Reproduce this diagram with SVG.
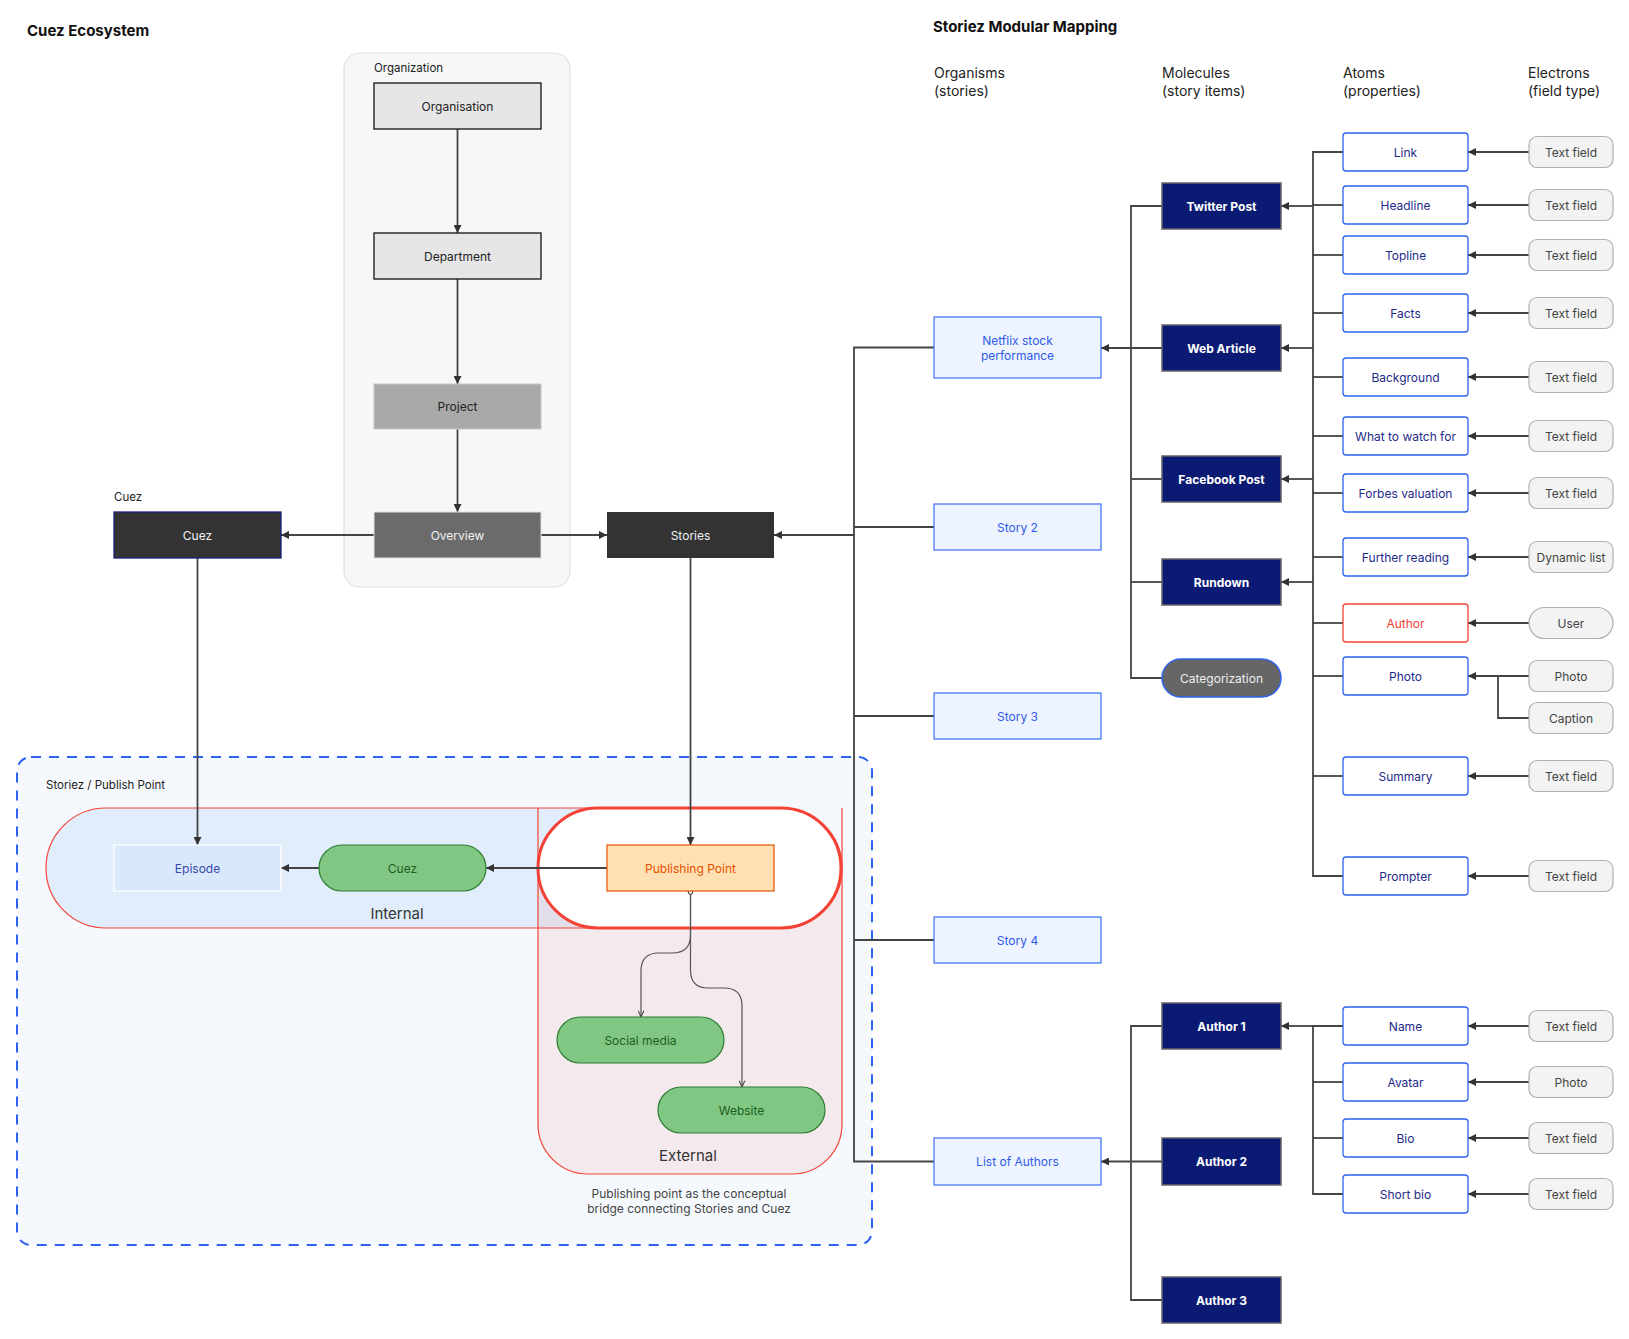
<svg xmlns="http://www.w3.org/2000/svg" width="1629" height="1339" viewBox="0 0 1629 1339">
<defs>
<marker id="arr" viewBox="0 0 10 10" refX="10" refY="5" markerWidth="8" markerHeight="8" markerUnits="userSpaceOnUse" orient="auto"><path d="M0,0 L10,5 L0,10 z" fill="#333"/></marker>
<marker id="open" viewBox="0 0 10 10" refX="10" refY="5" markerWidth="7" markerHeight="7" markerUnits="userSpaceOnUse" orient="auto"><path d="M1,1 L10,5 L1,9" fill="none" stroke="#444" stroke-width="1.5"/></marker>
</defs>
<style>
text{font-family:Inter,"Noto Sans","Liberation Sans",sans-serif;}
.t{font-size:12px;text-anchor:middle;dominant-baseline:central;}
.title{font-size:15px;font-weight:700;fill:#111;}
.hdr{font-size:14px;fill:#222;}
.lbl{font-size:11.5px;fill:#222;}
.org{fill:#eef4ff;stroke:#3d6cf5;stroke-width:1.2;}
.orgt{fill:#2f5be8;}
.mol{fill:#0b1b73;stroke:#666;stroke-width:1.5;}
.molt{fill:#fff;font-weight:700;}
.atom{fill:#fff;stroke:#2e63f0;stroke-width:1.3;}
.atomt{fill:#1e2a8a;}
.el{fill:#f3f3f3;stroke:#b0b0b0;stroke-width:1.2;}
.elt{fill:#444;}
.c{fill:none;stroke:#444;stroke-width:1.8;}
.ca{fill:none;stroke:#444;stroke-width:1.8;marker-end:url(#arr);}
.cc{fill:none;stroke:#555;stroke-width:1.2;marker-end:url(#open);}
</style>

<text class="title" x="27" y="36">Cuez Ecosystem</text>
<text class="title" x="933" y="32">Storiez Modular Mapping</text>

<g id="headers" class="hdr">
<text x="934" y="78">Organisms</text><text x="934" y="96">(stories)</text>
<text x="1162" y="78">Molecules</text><text x="1162" y="96">(story items)</text>
<text x="1343" y="78">Atoms</text><text x="1343" y="96">(properties)</text>
<text x="1528" y="78">Electrons</text><text x="1528" y="96">(field type)</text>
</g>

<!-- Organization container -->
<g id="organization-group">
<rect x="344" y="53" width="226" height="534" rx="16" fill="#f7f7f7" stroke="#e0e0e0" stroke-width="1.2"/>
<text class="lbl" x="374" y="72">Organization</text>
</g>

<!-- Storiez / Publish Point container -->
<g id="publish-container">
<rect x="17" y="757" width="855" height="488" rx="14" fill="#f5f9fd" stroke="#2f62f0" stroke-width="2" stroke-dasharray="10 8"/>
<text class="lbl" x="46" y="789">Storiez / Publish Point</text>
</g>
<g id="internal-zone">
<rect x="46" y="808" width="796" height="120" rx="60" fill="#e1edfb" stroke="#f44336" stroke-width="1.2"/>
<text x="397" y="919" font-size="15" fill="#333" text-anchor="middle">Internal</text>
</g>
<g id="external-zone">
<path d="M538,868 H842 V1124 A50,50 0 0 1 792,1174 H588 A50,50 0 0 1 538,1124 Z" fill="#f44336" fill-opacity="0.08"/>
<path d="M538,808 V1124 A50,50 0 0 0 588,1174 H792 A50,50 0 0 0 842,1124 V808" fill="none" stroke="#f44336" stroke-width="1.2"/>
<text x="688" y="1161" font-size="15" fill="#333" text-anchor="middle">External</text>
</g>
<g id="publishing-zone">
<rect x="538" y="808" width="303" height="120" rx="60" fill="#fff" stroke="#f44336" stroke-width="3"/>
</g>

<!-- Connectors -->
<g id="connectors">
<line class="ca" x1="457.5" y1="129" x2="457.5" y2="233"/>
<line class="ca" x1="457.5" y1="279" x2="457.5" y2="384"/>
<line class="ca" x1="457.5" y1="429" x2="457.5" y2="512"/>
<line class="ca" x1="374" y1="535" x2="281" y2="535"/>
<line class="ca" x1="541" y1="535" x2="607" y2="535"/>
<line class="ca" x1="854" y1="535" x2="774" y2="535"/>
<line class="ca" x1="197.5" y1="558" x2="197.5" y2="845"/>
<line class="ca" x1="690.5" y1="558" x2="690.5" y2="845"/>
<line class="ca" x1="607" y1="868" x2="486" y2="868"/>
<line class="ca" x1="319" y1="868" x2="281" y2="868"/>
<path class="cc" d="M690.5,891 V935 Q690.5,953 672,953 H659 Q641,953 641,971 V1017"/>
<path class="cc" d="M690.5,891 V970 Q690.5,988 708,988 H724 Q742,988 742,1006 V1087"/>
<circle cx="690.5" cy="892" r="2.3" fill="#fff" stroke="#222" stroke-width="1"/>

<!-- organism trunk -->
<path class="c" d="M934,347.5 H854 V1161.5 H934"/>
<line class="c" x1="854" y1="527" x2="934" y2="527"/>
<line class="c" x1="854" y1="716" x2="934" y2="716"/>
<line class="c" x1="854" y1="940" x2="934" y2="940"/>

<!-- molecule trunk -->
<path class="c" d="M1162,206 H1131 V678 H1162"/>
<line class="c" x1="1131" y1="479" x2="1162" y2="479"/>
<line class="c" x1="1131" y1="582" x2="1162" y2="582"/>
<line class="ca" x1="1162" y1="348" x2="1101" y2="348"/>
<path class="c" d="M1162,1026 H1131 V1300 H1162"/>
<line class="ca" x1="1162" y1="1161.5" x2="1101" y2="1161.5"/>

<!-- atom trunk -->
<path class="c" d="M1343,152 H1313 V876 H1343"/>
<line class="c" x1="1313" y1="205" x2="1343" y2="205"/>
<line class="c" x1="1313" y1="255" x2="1343" y2="255"/>
<line class="c" x1="1313" y1="313" x2="1343" y2="313"/>
<line class="c" x1="1313" y1="377" x2="1343" y2="377"/>
<line class="c" x1="1313" y1="436" x2="1343" y2="436"/>
<line class="c" x1="1313" y1="493" x2="1343" y2="493"/>
<line class="c" x1="1313" y1="557" x2="1343" y2="557"/>
<line class="c" x1="1313" y1="623" x2="1343" y2="623"/>
<line class="c" x1="1313" y1="676" x2="1343" y2="676"/>
<line class="c" x1="1313" y1="776" x2="1343" y2="776"/>
<line class="ca" x1="1313" y1="206" x2="1281" y2="206"/>
<line class="ca" x1="1313" y1="348" x2="1281" y2="348"/>
<line class="ca" x1="1313" y1="479" x2="1281" y2="479"/>
<line class="ca" x1="1313" y1="582" x2="1281" y2="582"/>
<path class="c" d="M1343,1026 H1313 V1194 H1343"/>
<line class="c" x1="1313" y1="1082" x2="1343" y2="1082"/>
<line class="c" x1="1313" y1="1138" x2="1343" y2="1138"/>
<line class="ca" x1="1313" y1="1026" x2="1281" y2="1026"/>

<!-- electron arrows -->
<line class="ca" x1="1529" y1="152" x2="1468" y2="152"/>
<line class="ca" x1="1529" y1="205" x2="1468" y2="205"/>
<line class="ca" x1="1529" y1="255" x2="1468" y2="255"/>
<line class="ca" x1="1529" y1="313" x2="1468" y2="313"/>
<line class="ca" x1="1529" y1="377" x2="1468" y2="377"/>
<line class="ca" x1="1529" y1="436" x2="1468" y2="436"/>
<line class="ca" x1="1529" y1="493" x2="1468" y2="493"/>
<line class="ca" x1="1529" y1="557" x2="1468" y2="557"/>
<line class="ca" x1="1529" y1="623" x2="1468" y2="623"/>
<line class="ca" x1="1529" y1="676" x2="1468" y2="676"/>
<path class="c" d="M1529,718 H1498 V676"/>
<line class="ca" x1="1529" y1="776" x2="1468" y2="776"/>
<line class="ca" x1="1529" y1="876" x2="1468" y2="876"/>
<line class="ca" x1="1529" y1="1026" x2="1468" y2="1026"/>
<line class="ca" x1="1529" y1="1082" x2="1468" y2="1082"/>
<line class="ca" x1="1529" y1="1138" x2="1468" y2="1138"/>
<line class="ca" x1="1529" y1="1194" x2="1468" y2="1194"/>
</g>

<!-- Left nodes -->
<g id="n-organisation"><rect x="374" y="83" width="167" height="46" fill="#e6e6e6" stroke="#111" stroke-width="1.3"/><text class="t" x="457.5" y="106" fill="#222">Organisation</text></g>
<g id="n-department"><rect x="374" y="233" width="167" height="46" fill="#e6e6e6" stroke="#111" stroke-width="1.3"/><text class="t" x="457.5" y="256" fill="#222">Department</text></g>
<g id="n-project"><rect x="374" y="384" width="167" height="45" fill="#a8a8a8" stroke="#c8c8c8" stroke-width="1"/><text class="t" x="457.5" y="406.5" fill="#222">Project</text></g>
<g id="n-overview"><rect x="374" y="512" width="167" height="46" fill="#6b6b6b" stroke="#e0e0e0" stroke-width="1"/><text class="t" x="457.5" y="535" fill="#f2f2f2">Overview</text></g>
<g id="n-cuez"><text class="lbl" x="114" y="501">Cuez</text><rect x="114" y="512" width="167" height="46" fill="#333" stroke="#1a237e" stroke-width="1.3"/><text class="t" x="197.5" y="535" fill="#f2f2f2">Cuez</text></g>
<g id="n-stories"><rect x="607" y="512" width="167" height="46" fill="#333"/><text class="t" x="690.5" y="535" fill="#f2f2f2">Stories</text></g>

<g id="n-episode"><rect x="114" y="845" width="167" height="46" fill="#dae8fc" stroke="#fff" stroke-width="1.3"/><text class="t" x="197.5" y="868" fill="#3949ab">Episode</text></g>
<g id="n-cuez-pill"><rect x="319" y="845" width="167" height="46" rx="23" fill="#81c784" stroke="#2e7d32" stroke-width="1.2"/><text class="t" x="402.5" y="868" fill="#1b5e20">Cuez</text></g>
<g id="n-publishing-point"><rect x="607" y="845" width="167" height="46" fill="#ffe0b2" stroke="#e65100" stroke-width="1.2"/><text class="t" x="690.5" y="868" fill="#e65100">Publishing Point</text></g>
<g id="n-social"><rect x="557" y="1017" width="167" height="46" rx="23" fill="#81c784" stroke="#2e7d32" stroke-width="1.2"/><text class="t" x="640.5" y="1040" fill="#1b5e20">Social media</text></g>
<g id="n-website"><rect x="658" y="1087" width="167" height="46" rx="23" fill="#81c784" stroke="#2e7d32" stroke-width="1.2"/><text class="t" x="741.5" y="1110" fill="#1b5e20">Website</text></g>
<g id="caption"><text x="689" y="1198" font-size="12" fill="#444" text-anchor="middle">Publishing point as the conceptual</text><text x="689" y="1213" font-size="12" fill="#444" text-anchor="middle">bridge connecting Stories and Cuez</text></g>

<!-- Organisms -->
<g id="o-netflix"><rect class="org" x="934" y="317" width="167" height="61"/><text class="t orgt" x="1017.5" y="340">Netflix stock</text><text class="t orgt" x="1017.5" y="355">performance</text></g>
<g id="o-story2"><rect class="org" x="934" y="504" width="167" height="46"/><text class="t orgt" x="1017.5" y="527">Story 2</text></g>
<g id="o-story3"><rect class="org" x="934" y="693" width="167" height="46"/><text class="t orgt" x="1017.5" y="716">Story 3</text></g>
<g id="o-story4"><rect class="org" x="934" y="917" width="167" height="46"/><text class="t orgt" x="1017.5" y="940">Story 4</text></g>
<g id="o-authors"><rect class="org" x="934" y="1138" width="167" height="47"/><text class="t orgt" x="1017.5" y="1161.5">List of Authors</text></g>

<!-- Molecules -->
<g id="m-twitter"><rect class="mol" x="1162" y="183" width="119" height="46"/><text class="t molt" x="1221.5" y="206">Twitter Post</text></g>
<g id="m-web"><rect class="mol" x="1162" y="325" width="119" height="46"/><text class="t molt" x="1221.5" y="348">Web Article</text></g>
<g id="m-facebook"><rect class="mol" x="1162" y="456" width="119" height="46"/><text class="t molt" x="1221.5" y="479">Facebook Post</text></g>
<g id="m-rundown"><rect class="mol" x="1162" y="559" width="119" height="46"/><text class="t molt" x="1221.5" y="582">Rundown</text></g>
<g id="m-categorization"><rect x="1162" y="659" width="119" height="38" rx="19" fill="#666" stroke="#2e63f0" stroke-width="1.5"/><text class="t" x="1221.5" y="678" fill="#eee">Categorization</text></g>
<g id="m-author1"><rect class="mol" x="1162" y="1003" width="119" height="46"/><text class="t molt" x="1221.5" y="1026">Author 1</text></g>
<g id="m-author2"><rect class="mol" x="1162" y="1138" width="119" height="47"/><text class="t molt" x="1221.5" y="1161.5">Author 2</text></g>
<g id="m-author3"><rect class="mol" x="1162" y="1277" width="119" height="46"/><text class="t molt" x="1221.5" y="1300">Author 3</text></g>

<!-- Atoms -->
<g id="a-link"><rect class="atom" x="1343" y="133" width="125" height="38" rx="3"/><text class="t atomt" x="1405.5" y="152">Link</text></g>
<g id="a-headline"><rect class="atom" x="1343" y="186" width="125" height="38" rx="3"/><text class="t atomt" x="1405.5" y="205">Headline</text></g>
<g id="a-topline"><rect class="atom" x="1343" y="236" width="125" height="38" rx="3"/><text class="t atomt" x="1405.5" y="255">Topline</text></g>
<g id="a-facts"><rect class="atom" x="1343" y="294" width="125" height="38" rx="3"/><text class="t atomt" x="1405.5" y="313">Facts</text></g>
<g id="a-background"><rect class="atom" x="1343" y="358" width="125" height="38" rx="3"/><text class="t atomt" x="1405.5" y="377">Background</text></g>
<g id="a-watch"><rect class="atom" x="1343" y="417" width="125" height="38" rx="3"/><text class="t atomt" x="1405.5" y="436">What to watch for</text></g>
<g id="a-forbes"><rect class="atom" x="1343" y="474" width="125" height="38" rx="3"/><text class="t atomt" x="1405.5" y="493">Forbes valuation</text></g>
<g id="a-further"><rect class="atom" x="1343" y="538" width="125" height="38" rx="3"/><text class="t atomt" x="1405.5" y="557">Further reading</text></g>
<g id="a-author"><rect x="1343" y="604" width="125" height="38" rx="3" fill="#fff" stroke="#f44336" stroke-width="1.3"/><text class="t" x="1405.5" y="623" fill="#f44336">Author</text></g>
<g id="a-photo"><rect class="atom" x="1343" y="657" width="125" height="38" rx="3"/><text class="t atomt" x="1405.5" y="676">Photo</text></g>
<g id="a-summary"><rect class="atom" x="1343" y="757" width="125" height="38" rx="3"/><text class="t atomt" x="1405.5" y="776">Summary</text></g>
<g id="a-prompter"><rect class="atom" x="1343" y="857" width="125" height="38" rx="3"/><text class="t atomt" x="1405.5" y="876">Prompter</text></g>
<g id="a-name"><rect class="atom" x="1343" y="1007" width="125" height="38" rx="3"/><text class="t atomt" x="1405.5" y="1026">Name</text></g>
<g id="a-avatar"><rect class="atom" x="1343" y="1063" width="125" height="38" rx="3"/><text class="t atomt" x="1405.5" y="1082">Avatar</text></g>
<g id="a-bio"><rect class="atom" x="1343" y="1119" width="125" height="38" rx="3"/><text class="t atomt" x="1405.5" y="1138">Bio</text></g>
<g id="a-shortbio"><rect class="atom" x="1343" y="1175" width="125" height="38" rx="3"/><text class="t atomt" x="1405.5" y="1194">Short bio</text></g>

<!-- Electrons -->
<g id="e-link"><rect class="el" x="1529" y="136.5" width="84" height="31" rx="8"/><text class="t elt" x="1571" y="152">Text field</text></g>
<g id="e-headline"><rect class="el" x="1529" y="189.5" width="84" height="31" rx="8"/><text class="t elt" x="1571" y="205">Text field</text></g>
<g id="e-topline"><rect class="el" x="1529" y="239.5" width="84" height="31" rx="8"/><text class="t elt" x="1571" y="255">Text field</text></g>
<g id="e-facts"><rect class="el" x="1529" y="297.5" width="84" height="31" rx="8"/><text class="t elt" x="1571" y="313">Text field</text></g>
<g id="e-background"><rect class="el" x="1529" y="361.5" width="84" height="31" rx="8"/><text class="t elt" x="1571" y="377">Text field</text></g>
<g id="e-watch"><rect class="el" x="1529" y="420.5" width="84" height="31" rx="8"/><text class="t elt" x="1571" y="436">Text field</text></g>
<g id="e-forbes"><rect class="el" x="1529" y="477.5" width="84" height="31" rx="8"/><text class="t elt" x="1571" y="493">Text field</text></g>
<g id="e-further"><rect class="el" x="1529" y="541.5" width="84" height="31" rx="8"/><text class="t elt" x="1571" y="557">Dynamic list</text></g>
<g id="e-author"><rect class="el" x="1529" y="607.5" width="84" height="31" rx="15.5"/><text class="t elt" x="1571" y="623">User</text></g>
<g id="e-photo"><rect class="el" x="1529" y="660.5" width="84" height="31" rx="8"/><text class="t elt" x="1571" y="676">Photo</text></g>
<g id="e-caption"><rect class="el" x="1529" y="702.5" width="84" height="31" rx="8"/><text class="t elt" x="1571" y="718">Caption</text></g>
<g id="e-summary"><rect class="el" x="1529" y="760.5" width="84" height="31" rx="8"/><text class="t elt" x="1571" y="776">Text field</text></g>
<g id="e-prompter"><rect class="el" x="1529" y="860.5" width="84" height="31" rx="8"/><text class="t elt" x="1571" y="876">Text field</text></g>
<g id="e-name"><rect class="el" x="1529" y="1010.5" width="84" height="31" rx="8"/><text class="t elt" x="1571" y="1026">Text field</text></g>
<g id="e-avatar"><rect class="el" x="1529" y="1066.5" width="84" height="31" rx="8"/><text class="t elt" x="1571" y="1082">Photo</text></g>
<g id="e-bio"><rect class="el" x="1529" y="1122.5" width="84" height="31" rx="8"/><text class="t elt" x="1571" y="1138">Text field</text></g>
<g id="e-shortbio"><rect class="el" x="1529" y="1178.5" width="84" height="31" rx="8"/><text class="t elt" x="1571" y="1194">Text field</text></g>
</svg>
